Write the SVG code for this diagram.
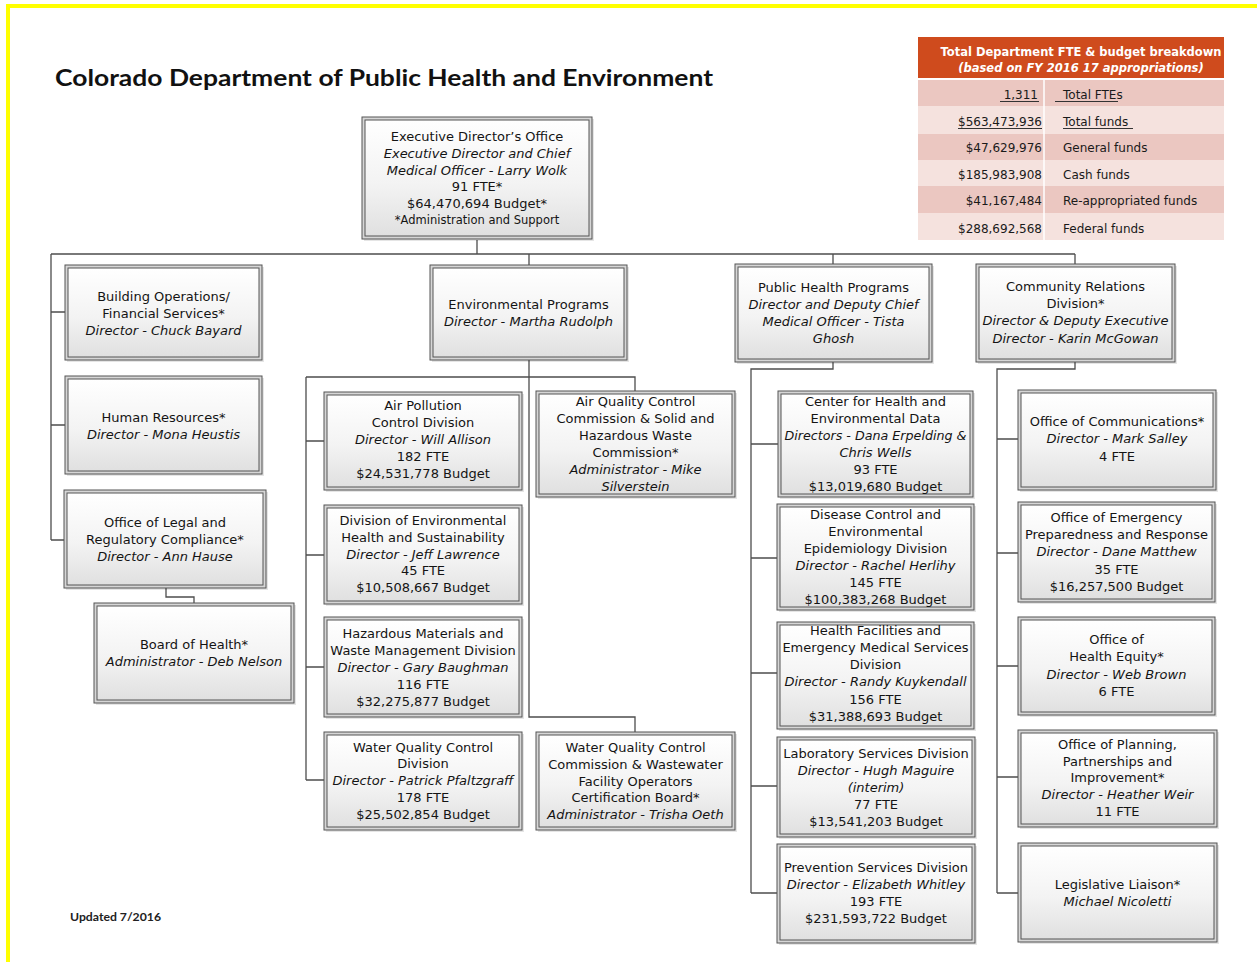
<svg xmlns="http://www.w3.org/2000/svg" width="1257" height="962" viewBox="0 0 1257 962">
  <style>
    .frame { fill: #d6d6d6; stroke: #555; stroke-width: 1; }
    .face { fill: url(#faceFill); stroke: #555; stroke-width: 1; }
    .shade { fill: #000; opacity: 0.10; }
    .t { font-family: "DejaVu Sans", Verdana, sans-serif; font-size: 13px; fill: #141414; text-anchor: middle; }
    .i { font-style: italic; }
    .small { font-size: 11.5px; }
    .wire { fill: none; stroke: #4d4d4d; stroke-width: 1.3; }
    .tbl { font-family: "DejaVu Sans", Verdana, sans-serif; font-size: 12px; fill: #1a1a1a; }
    .ul { stroke: #333; stroke-width: 1; }
  </style>
  <defs>
    <linearGradient id="faceFill" x1="0" y1="0" x2="0" y2="1">
      <stop offset="0" stop-color="#ffffff"/>
      <stop offset="0.55" stop-color="#f3f3f3"/>
      <stop offset="1" stop-color="#e0e0e0"/>
    </linearGradient>
  </defs>

  <rect width="1257" height="962" fill="#ffffff"/>
  <!-- page edge highlight -->
  <rect x="6" y="4" width="1251" height="4" fill="#ffff00"/>
  <rect x="6" y="4" width="4" height="958" fill="#ffff00"/>

  <text x="55" y="86" font-family="Lato, 'Liberation Sans', sans-serif" font-weight="bold" font-size="23" fill="#111" textLength="658" lengthAdjust="spacingAndGlyphs">Colorado Department of Public Health and Environment</text>
  <text x="70" y="921" font-family="Lato, 'Liberation Sans', sans-serif" font-weight="bold" font-size="12" fill="#222" textLength="91" lengthAdjust="spacingAndGlyphs">Updated 7/2016</text>

  <!-- FTE and budget summary table -->
  <g id="budget-table">
    <rect x="918" y="37" width="306" height="41" fill="#cf4b1d"/>
    <text x="1081" y="56" font-family="'DejaVu Sans', Verdana, sans-serif" font-size="11.5" font-weight="bold" fill="#fff" text-anchor="middle" textLength="281" lengthAdjust="spacingAndGlyphs">Total Department FTE &amp; budget breakdown</text>
    <text x="1081" y="72" font-family="'DejaVu Sans', Verdana, sans-serif" font-size="11.5" font-weight="bold" font-style="italic" fill="#fff" text-anchor="middle">(based on FY 2016 17 appropriations)</text>
    <rect x="918" y="80" width="306" height="26" fill="#ebc7c1"/>
    <rect x="918" y="106" width="306" height="28" fill="#f5e2de"/>
    <rect x="918" y="134" width="306" height="26" fill="#ebc7c1"/>
    <rect x="918" y="160" width="306" height="26" fill="#f5e2de"/>
    <rect x="918" y="186" width="306" height="27" fill="#ebc7c1"/>
    <rect x="918" y="213" width="306" height="27" fill="#f5e2de"/>
    <line x1="1044" y1="80" x2="1044" y2="240" stroke="#ffffff" stroke-width="1.5"/>
    <g class="tbl" text-anchor="end">
      <text x="1038" y="99">1,311</text>
      <text x="1042" y="126">$563,473,936</text>
      <text x="1042" y="152">$47,629,976</text>
      <text x="1042" y="179">$185,983,908</text>
      <text x="1042" y="205">$41,167,484</text>
      <text x="1042" y="233">$288,692,568</text>
    </g>
    <g class="tbl">
      <text x="1063" y="99">Total FTEs</text>
      <text x="1063" y="126">Total funds</text>
      <text x="1063" y="152">General funds</text>
      <text x="1063" y="179">Cash funds</text>
      <text x="1063" y="205">Re-appropriated funds</text>
      <text x="1063" y="233">Federal funds</text>
    </g>
    <line class="ul" x1="1000" y1="101.5" x2="1039" y2="101.5"/>
    <line class="ul" x1="1055" y1="101.5" x2="1118" y2="101.5"/>
    <line class="ul" x1="958" y1="128.5" x2="1042" y2="128.5"/>
    <line class="ul" x1="1063" y1="128.5" x2="1133" y2="128.5"/>
  </g>

  <!-- reporting lines -->
  <g id="connectors">
    <path class="wire" d="M477,240 V254 M51,254 H1075"/>
    <path class="wire" d="M51,254 V540 M51,312 H65 M51,425 H65 M51,540 H64"/>
    <path class="wire" d="M166,588 V597 H194 V603"/>
    <path class="wire" d="M529,254 V265 M529,360 V717 H635 V732 M306,377 H635 V391 M306,377 V780 M306,441 H324 M306,555 H324 M306,667 H324 M306,780 H324"/>
    <path class="wire" d="M833,254 V264 M833,362 V369 H751 V893 M751,444 H778 M751,558 H777 M751,673 H777 M751,786 H777 M751,893 H777"/>
    <path class="wire" d="M1075,254 V264 M1075,362 V369 H997 V893 M997,439 H1018 M997,553 H1018 M997,666 H1018 M997,777 H1018 M997,893 H1018"/>
  </g>

  <g id="exec">
    <rect class="shade" x="364" y="119" width="230" height="122"/>
    <rect class="frame" x="362" y="117" width="230" height="122"/>
    <rect class="face" x="365" y="120" width="224" height="116"/>
    <text class="t" x="477" y="141">Executive Director’s Office</text>
    <text class="t i" x="477" y="158">Executive Director and Chief</text>
    <text class="t i" x="477" y="175">Medical Officer - Larry Wolk</text>
    <text class="t" x="477" y="191">91 FTE*</text>
    <text class="t" x="477" y="208">$64,470,694 Budget*</text>
    <text class="t small" x="477" y="224">*Administration and Support</text>
  </g>

  <g id="building-ops">
    <rect class="shade" x="67" y="267" width="197" height="95"/>
    <rect class="frame" x="65" y="265" width="197" height="95"/>
    <rect class="face" x="68" y="268" width="191" height="89"/>
    <text class="t" x="163.5" y="301">Building Operations/</text>
    <text class="t" x="163.5" y="318">Financial Services*</text>
    <text class="t i" x="163.5" y="335">Director - Chuck Bayard</text>
  </g>

  <g id="human-resources">
    <rect class="shade" x="67" y="378" width="197" height="98"/>
    <rect class="frame" x="65" y="376" width="197" height="98"/>
    <rect class="face" x="68" y="379" width="191" height="92"/>
    <text class="t" x="163.5" y="422">Human Resources*</text>
    <text class="t i" x="163.5" y="439">Director - Mona Heustis</text>
  </g>

  <g id="legal">
    <rect class="shade" x="66" y="492" width="202" height="98"/>
    <rect class="frame" x="64" y="490" width="202" height="98"/>
    <rect class="face" x="67" y="493" width="196" height="92"/>
    <text class="t" x="165" y="527">Office of Legal and</text>
    <text class="t" x="165" y="544">Regulatory Compliance*</text>
    <text class="t i" x="165" y="561">Director - Ann Hause</text>
  </g>

  <g id="board-of-health">
    <rect class="shade" x="96" y="605" width="200" height="100"/>
    <rect class="frame" x="94" y="603" width="200" height="100"/>
    <rect class="face" x="97" y="606" width="194" height="94"/>
    <text class="t" x="194" y="649">Board of Health*</text>
    <text class="t i" x="194" y="666">Administrator - Deb Nelson</text>
  </g>

  <g id="environmental-programs">
    <rect class="shade" x="432" y="267" width="197" height="95"/>
    <rect class="frame" x="430" y="265" width="197" height="95"/>
    <rect class="face" x="433" y="268" width="191" height="89"/>
    <text class="t" x="528.5" y="309">Environmental Programs</text>
    <text class="t i" x="528.5" y="326">Director - Martha Rudolph</text>
  </g>

  <g id="air-pollution">
    <rect class="shade" x="326" y="394" width="198" height="98"/>
    <rect class="frame" x="324" y="392" width="198" height="98"/>
    <rect class="face" x="327" y="395" width="192" height="92"/>
    <text class="t" x="423" y="410">Air Pollution</text>
    <text class="t" x="423" y="427">Control Division</text>
    <text class="t i" x="423" y="444">Director - Will Allison</text>
    <text class="t" x="423" y="461">182 FTE</text>
    <text class="t" x="423" y="478">$24,531,778 Budget</text>
  </g>

  <g id="air-quality-commission">
    <rect class="shade" x="538" y="393" width="199" height="106"/>
    <rect class="frame" x="536" y="391" width="199" height="106"/>
    <rect class="face" x="539" y="394" width="193" height="100"/>
    <text class="t" x="635.5" y="406">Air Quality Control</text>
    <text class="t" x="635.5" y="423">Commission &amp; Solid and</text>
    <text class="t" x="635.5" y="440">Hazardous Waste</text>
    <text class="t" x="635.5" y="457">Commission*</text>
    <text class="t i" x="635.5" y="474">Administrator - Mike</text>
    <text class="t i" x="635.5" y="491">Silverstein</text>
  </g>

  <g id="env-health-sustainability">
    <rect class="shade" x="326" y="507" width="198" height="99"/>
    <rect class="frame" x="324" y="505" width="198" height="99"/>
    <rect class="face" x="327" y="508" width="192" height="93"/>
    <text class="t" x="423" y="525">Division of Environmental</text>
    <text class="t" x="423" y="542">Health and Sustainability</text>
    <text class="t i" x="423" y="559">Director - Jeff Lawrence</text>
    <text class="t" x="423" y="575">45 FTE</text>
    <text class="t" x="423" y="592">$10,508,667 Budget</text>
  </g>

  <g id="hazardous-materials">
    <rect class="shade" x="326" y="619" width="198" height="100"/>
    <rect class="frame" x="324" y="617" width="198" height="100"/>
    <rect class="face" x="327" y="620" width="192" height="94"/>
    <text class="t" x="423" y="638">Hazardous Materials and</text>
    <text class="t" x="423" y="655">Waste Management Division</text>
    <text class="t i" x="423" y="672">Director - Gary Baughman</text>
    <text class="t" x="423" y="689">116 FTE</text>
    <text class="t" x="423" y="706">$32,275,877 Budget</text>
  </g>

  <g id="water-quality-division">
    <rect class="shade" x="326" y="734" width="198" height="98"/>
    <rect class="frame" x="324" y="732" width="198" height="98"/>
    <rect class="face" x="327" y="735" width="192" height="92"/>
    <text class="t" x="423" y="752">Water Quality Control</text>
    <text class="t" x="423" y="768">Division</text>
    <text class="t i" x="423" y="785">Director - Patrick Pfaltzgraff</text>
    <text class="t" x="423" y="802">178 FTE</text>
    <text class="t" x="423" y="819">$25,502,854 Budget</text>
  </g>

  <g id="water-quality-commission">
    <rect class="shade" x="538" y="734" width="199" height="98"/>
    <rect class="frame" x="536" y="732" width="199" height="98"/>
    <rect class="face" x="539" y="735" width="193" height="92"/>
    <text class="t" x="635.5" y="752">Water Quality Control</text>
    <text class="t" x="635.5" y="769">Commission &amp; Wastewater</text>
    <text class="t" x="635.5" y="786">Facility Operators</text>
    <text class="t" x="635.5" y="802">Certification Board*</text>
    <text class="t i" x="635.5" y="819">Administrator - Trisha Oeth</text>
  </g>

  <g id="public-health-programs">
    <rect class="shade" x="737" y="266" width="197" height="98"/>
    <rect class="frame" x="735" y="264" width="197" height="98"/>
    <rect class="face" x="738" y="267" width="191" height="92"/>
    <text class="t" x="833.5" y="292">Public Health Programs</text>
    <text class="t i" x="833.5" y="309">Director and Deputy Chief</text>
    <text class="t i" x="833.5" y="326">Medical Officer - Tista</text>
    <text class="t i" x="833.5" y="343">Ghosh</text>
  </g>

  <g id="community-relations">
    <rect class="shade" x="978" y="266" width="199" height="98"/>
    <rect class="frame" x="976" y="264" width="199" height="98"/>
    <rect class="face" x="979" y="267" width="193" height="92"/>
    <text class="t" x="1075.5" y="291">Community Relations</text>
    <text class="t" x="1075.5" y="308">Division*</text>
    <text class="t i" x="1075.5" y="325">Director &amp; Deputy Executive</text>
    <text class="t i" x="1075.5" y="343">Director - Karin McGowan</text>
  </g>

  <g id="health-env-data">
    <rect class="shade" x="780" y="393" width="195" height="106"/>
    <rect class="frame" x="778" y="391" width="195" height="106"/>
    <rect class="face" x="781" y="394" width="189" height="100"/>
    <text class="t" x="875.5" y="406">Center for Health and</text>
    <text class="t" x="875.5" y="423">Environmental Data</text>
    <text class="t i" x="875.5" y="440" textLength="182" lengthAdjust="spacingAndGlyphs">Directors - Dana Erpelding &amp;</text>
    <text class="t i" x="875.5" y="457">Chris Wells</text>
    <text class="t" x="875.5" y="474">93 FTE</text>
    <text class="t" x="875.5" y="491">$13,019,680 Budget</text>
  </g>

  <g id="disease-control">
    <rect class="shade" x="779" y="506" width="197" height="106"/>
    <rect class="frame" x="777" y="504" width="197" height="106"/>
    <rect class="face" x="780" y="507" width="191" height="100"/>
    <text class="t" x="875.5" y="519">Disease Control and</text>
    <text class="t" x="875.5" y="536">Environmental</text>
    <text class="t" x="875.5" y="553">Epidemiology Division</text>
    <text class="t i" x="875.5" y="570">Director - Rachel Herlihy</text>
    <text class="t" x="875.5" y="587">145 FTE</text>
    <text class="t" x="875.5" y="604">$100,383,268 Budget</text>
  </g>

  <g id="health-facilities">
    <rect class="shade" x="779" y="624" width="197" height="107"/>
    <rect class="frame" x="777" y="622" width="197" height="107"/>
    <rect class="face" x="780" y="625" width="191" height="101"/>
    <text class="t" x="875.5" y="635">Health Facilities and</text>
    <text class="t" x="875.5" y="652">Emergency Medical Services</text>
    <text class="t" x="875.5" y="669">Division</text>
    <text class="t i" x="875.5" y="686">Director - Randy Kuykendall</text>
    <text class="t" x="875.5" y="704">156 FTE</text>
    <text class="t" x="875.5" y="721">$31,388,693 Budget</text>
  </g>

  <g id="laboratory-services">
    <rect class="shade" x="779" y="739" width="198" height="100"/>
    <rect class="frame" x="777" y="737" width="198" height="100"/>
    <rect class="face" x="780" y="740" width="192" height="94"/>
    <text class="t" x="876" y="758">Laboratory Services Division</text>
    <text class="t i" x="876" y="775">Director - Hugh Maguire</text>
    <text class="t i" x="876" y="792">(interim)</text>
    <text class="t" x="876" y="809">77 FTE</text>
    <text class="t" x="876" y="826">$13,541,203 Budget</text>
  </g>

  <g id="prevention-services">
    <rect class="shade" x="779" y="846" width="198" height="99"/>
    <rect class="frame" x="777" y="844" width="198" height="99"/>
    <rect class="face" x="780" y="847" width="192" height="93"/>
    <text class="t" x="876" y="872">Prevention Services Division</text>
    <text class="t i" x="876" y="889">Director - Elizabeth Whitley</text>
    <text class="t" x="876" y="906">193 FTE</text>
    <text class="t" x="876" y="923">$231,593,722 Budget</text>
  </g>

  <g id="communications">
    <rect class="shade" x="1020" y="392" width="198" height="100"/>
    <rect class="frame" x="1018" y="390" width="198" height="100"/>
    <rect class="face" x="1021" y="393" width="192" height="94"/>
    <text class="t" x="1117" y="426">Office of Communications*</text>
    <text class="t i" x="1117" y="443">Director - Mark Salley</text>
    <text class="t" x="1117" y="461">4 FTE</text>
  </g>

  <g id="emergency-preparedness">
    <rect class="shade" x="1020" y="504" width="197" height="100"/>
    <rect class="frame" x="1018" y="502" width="197" height="100"/>
    <rect class="face" x="1021" y="505" width="191" height="94"/>
    <text class="t" x="1116.5" y="522">Office of Emergency</text>
    <text class="t" x="1116.5" y="539">Preparedness and Response</text>
    <text class="t i" x="1116.5" y="556">Director - Dane Matthew</text>
    <text class="t" x="1116.5" y="574">35 FTE</text>
    <text class="t" x="1116.5" y="591">$16,257,500 Budget</text>
  </g>

  <g id="health-equity">
    <rect class="shade" x="1020" y="619" width="197" height="98"/>
    <rect class="frame" x="1018" y="617" width="197" height="98"/>
    <rect class="face" x="1021" y="620" width="191" height="92"/>
    <text class="t" x="1116.5" y="644">Office of</text>
    <text class="t" x="1116.5" y="661">Health Equity*</text>
    <text class="t i" x="1116.5" y="679">Director - Web Brown</text>
    <text class="t" x="1116.5" y="696">6 FTE</text>
  </g>

  <g id="planning-partnerships">
    <rect class="shade" x="1020" y="732" width="199" height="97"/>
    <rect class="frame" x="1018" y="730" width="199" height="97"/>
    <rect class="face" x="1021" y="733" width="193" height="91"/>
    <text class="t" x="1117.5" y="749">Office of Planning,</text>
    <text class="t" x="1117.5" y="766">Partnerships and</text>
    <text class="t" x="1117.5" y="782">Improvement*</text>
    <text class="t i" x="1117.5" y="799">Director - Heather Weir</text>
    <text class="t" x="1117.5" y="816">11 FTE</text>
  </g>

  <g id="legislative-liaison">
    <rect class="shade" x="1020" y="845" width="199" height="99"/>
    <rect class="frame" x="1018" y="843" width="199" height="99"/>
    <rect class="face" x="1021" y="846" width="193" height="93"/>
    <text class="t" x="1117.5" y="889">Legislative Liaison*</text>
    <text class="t i" x="1117.5" y="906">Michael Nicoletti</text>
  </g>
</svg>
